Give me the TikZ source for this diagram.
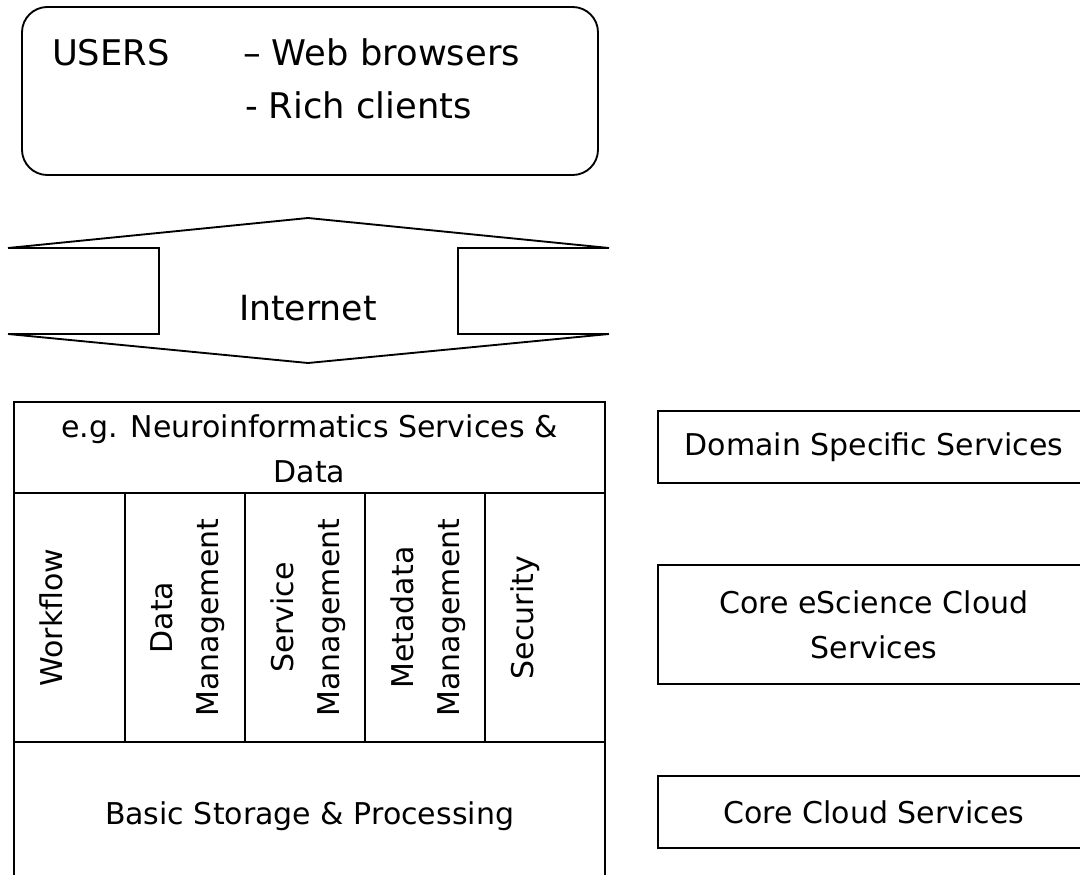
\documentclass[tikz,border=0pt]{standalone}
\usepackage{fontspec}
\setmainfont{DejaVu Sans}
\begin{document}
\begin{tikzpicture}[x=0.75pt,y=-0.75pt,inner sep=0pt,outer sep=0pt,line width=1.7pt,
txt/.style={font=\fontsize{22.5pt}{34pt}\selectfont,align=center},
usertxt/.style={font=\fontsize{26.5pt}{40pt}\selectfont,anchor=base west},
coltxt/.style={txt,rotate=90,anchor=north},
svcbox/.style={draw,rectangle,line width=1.4pt,minimum width=324pt,txt}]

\useasboundingbox (0,0) rectangle (1080,874);

% users
\node[draw,rounded corners=19pt,line width=1.4pt,minimum width=432pt,minimum height=126pt] (userbox) at (310,91) {};
\node[usertxt] (users) at (52,65) {USERS};
\node[usertxt] (web) at (243,65) {– Web browsers};
\node[usertxt] (rich) at (245,118) {- Rich clients};

% internet
\draw[line width=1.4pt] (8,248) -- (308,218) -- (609,248);
\draw[line width=1.4pt] (8,334) -- (308,363) -- (609,334);
\draw[line width=1.4pt] (8,248) -| (159,334) -- (8,334);
\draw[line width=1.4pt] (609,248) -| (458,334) -- (609,334);
\node[txt,font=\fontsize{26pt}{32pt}\selectfont,anchor=base] (inet) at (308,320) {Internet};

% service stack
\draw (14,402) rectangle (605,493);
\node[txt] (neuro) at (309.5,449) {e.g. Neuroinformatics Services \&\\Data};
\foreach \xa/\xb/\lbl [count=\i] in {14/125/Workflow,125/245/{Data\\Management},245/365/{Service\\Management},365/485/{Metadata\\Management},485/605/Security}
  \draw (\xa,493) rectangle (\xb,742) node[coltxt] (col\i) at (\xa+26,617.5) {\lbl};
\draw (14,742) rectangle (605,884);
\node[txt,anchor=base] (basic) at (309.5,824) {Basic Storage \& Processing};

% layer names
\node[svcbox,minimum height=54pt] (domain) at (874,447) {Domain Specific Services};
\node[svcbox,minimum height=89.25pt] (escience) at (874,624.5) {Core eScience Cloud\\Services};
\node[svcbox,minimum height=54pt] (cloud) at (874,812) {Core Cloud Services};
\end{tikzpicture}
\end{document}
